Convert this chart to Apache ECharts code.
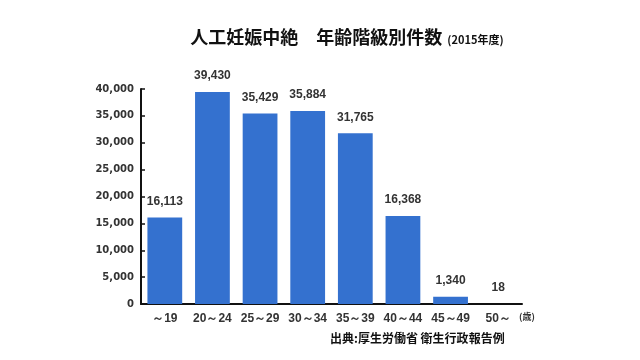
<!DOCTYPE html>
<html><head><meta charset="utf-8">
<script src="https://cdn.jsdelivr.net/npm/echarts@6/dist/echarts.min.js"></script>
<style>html,body{margin:0;padding:0;background:#fff}#c{width:640px;height:360px}</style>
</head><body><div id="c"></div>
<script>
const categories = ['～19','20～24','25～29','30～34','35～39','40～44','45～49','50～'];
const counts = [16113, 39430, 35429, 35884, 31765, 16368, 1340, 18];
const yTicks = [0, 5000, 10000, 15000, 20000, 25000, 30000, 35000, 40000];
const titleMain = '人工妊娠中絶　年齢階級別件数';
const titleSub = '(2015年度)';
const sourceText = '出典:厚生労働省 衛生行政報告例';
const unitText = '(歳)';

const fmt = v => v.toLocaleString('en-US');
const chart = echarts.init(document.getElementById('c'), null, {renderer:'canvas'});
chart.setOption({
  animation:false,
  backgroundColor:'#fff',
  title:{
    text:'{a|'+titleMain+'} {b|'+titleSub+'}',
    left:342, top:23, textAlign:'center',
    textStyle:{rich:{
      a:{fontFamily:'Noto Sans CJK JP', fontWeight:'bold', fontSize:18, color:'#111'},
      b:{fontFamily:'Noto Sans CJK JP', fontWeight:'bold', fontSize:11, color:'#111', padding:[5,0,0,0]}
    }}
  },
  graphic:[
    {type:'text', left:330, top:332, style:{text:sourceText, font:'bold 12px "Noto Sans CJK JP"', fill:'#111'}},
    {type:'text', left:519, top:312, style:{text:unitText, font:'bold 9px "Noto Sans CJK JP"', fill:'#333'}}
  ],
  grid:{left:141, right:118, top:89, bottom:56},
  xAxis:{
    type:'category', data:categories,
    axisLine:{lineStyle:{color:'#111', width:2}},
    axisTick:{show:false},
    axisLabel:{interval:0, fontFamily:'Liberation Sans', fontWeight:'bold', fontSize:12, color:'#333', margin:9}
  },
  yAxis:{
    type:'value', min:0, max:40000, interval:5000,
    axisLine:{show:true, lineStyle:{color:'#111', width:2}},
    axisTick:{show:true, inside:true, length:4, lineStyle:{color:'#111', width:1.5}},
    splitLine:{show:false},
    axisLabel:{fontFamily:'DejaVu Sans', fontWeight:'bold', fontSize:10, color:'#333', margin:7,
      formatter:v => fmt(v)}
  },
  series:[{
    type:'bar', data:counts, barWidth:'73%',
    itemStyle:{color:'#3471cf'},
    label:{show:true, position:'top', distance:10, fontFamily:'Liberation Sans', fontWeight:'bold', fontSize:12, color:'#333',
      formatter:p => fmt(p.value)}
  }]
});
</script></body></html>
